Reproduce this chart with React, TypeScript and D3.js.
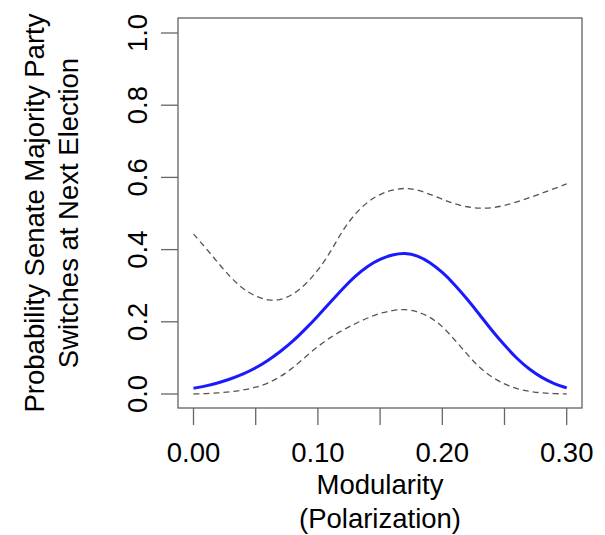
import * as d3 from "d3";
import { useEffect, useRef } from "react";

// modularity values (x)
const modularity = d3.range(0, 31).map((i) => i / 100);

// predicted probability
const fitted = [
	0.016, 0.022, 0.031, 0.042, 0.055, 0.072, 0.093, 0.118, 0.146, 0.18, 0.216,
	0.254, 0.292, 0.327, 0.355, 0.374, 0.386, 0.391, 0.384, 0.365, 0.338,
	0.303, 0.263, 0.22, 0.175, 0.135, 0.098, 0.068, 0.045, 0.028, 0.017,
];

const upper = [
	0.443, 0.404, 0.362, 0.322, 0.29, 0.27, 0.259, 0.26, 0.275, 0.303, 0.342,
	0.392, 0.455, 0.5, 0.533, 0.554, 0.566, 0.571, 0.566, 0.553, 0.54,
	0.526, 0.518, 0.514, 0.515, 0.522, 0.532, 0.544, 0.556, 0.569, 0.582,
];

const lower = [
	0.0, 0.001, 0.003, 0.006, 0.011, 0.018, 0.03, 0.048, 0.072, 0.103, 0.132,
	0.157, 0.177, 0.195, 0.211, 0.224, 0.232, 0.235, 0.229, 0.214, 0.188,
	0.15, 0.11, 0.072, 0.046, 0.027, 0.014, 0.007, 0.003, 0.001, 0.0,
];

const xTicks = [0, 0.05, 0.1, 0.15, 0.2, 0.25, 0.3];
const xLabelTicks = [0, 0.1, 0.2, 0.3];
const yTicks = [0, 0.2, 0.4, 0.6, 0.8, 1.0];

const yTitle = ["Probability Senate Majority Party", "Switches at Next Election"];
const xTitle = ["Modularity", "(Polarization)"];

export default function App() {
	const ref = useRef<SVGSVGElement>(null);

	useEffect(() => {
		const svg = d3.select(ref.current);
		svg.selectAll("*").remove();

		const font = "Liberation Sans, Arial, sans-serif";
		const fs = 27.5;
		const box = { left: 178, right: 582, top: 18, bottom: 408 };

		const x = d3.scaleLinear().domain([0, 0.3]).range([193.5, 566.7]);
		const y = d3.scaleLinear().domain([0, 1]).range([394, 33]);

		svg.append("rect").attr("width", 605).attr("height", 535).attr("fill", "#fff");

		// plot frame
		svg.append("rect")
			.attr("x", box.left).attr("y", box.top)
			.attr("width", box.right - box.left).attr("height", box.bottom - box.top)
			.attr("fill", "none").attr("stroke", "#555").attr("stroke-width", 1.2);

		const curve = (vals: number[]) =>
			d3.line<number>().x((d, i) => x(modularity[i])).y((d) => y(d)).curve(d3.curveBasis)(vals);

		// confidence bounds
		[upper, lower].forEach((vals) => {
			svg.append("path").attr("d", curve(vals)).attr("fill", "none")
				.attr("stroke", "#555").attr("stroke-width", 1.3).attr("stroke-dasharray", "6,4");
		});

		// fitted line
		svg.append("path").attr("d", curve(fitted)).attr("fill", "none")
			.attr("stroke", "#1a1aff").attr("stroke-width", 3);

		// x axis
		const xa = svg.append("g").attr("transform", `translate(0,${box.bottom})`);
		xa.selectAll("line").data(xTicks).join("line")
			.attr("x1", (d) => x(d)).attr("x2", (d) => x(d)).attr("y1", 0).attr("y2", 17)
			.attr("stroke", "#666").attr("stroke-width", 1.3);
		xa.selectAll("text").data(xLabelTicks).join("text")
			.attr("x", (d) => x(d)).attr("y", 54)
			.attr("text-anchor", "middle").attr("font-family", font).attr("font-size", fs)
			.text((d) => d3.format(".2f")(d));

		// y axis
		const ya = svg.append("g").attr("transform", `translate(${box.left},0)`);
		ya.selectAll("line").data(yTicks).join("line")
			.attr("x1", 0).attr("x2", -17).attr("y1", (d) => y(d)).attr("y2", (d) => y(d))
			.attr("stroke", "#666").attr("stroke-width", 1.3);
		ya.selectAll("text").data(yTicks).join("text")
			.attr("transform", (d) => `translate(-31,${y(d)}) rotate(-90)`)
			.attr("text-anchor", "middle").attr("font-family", font).attr("font-size", fs)
			.text((d) => d3.format(".1f")(d));

		// axis titles
		xTitle.forEach((t, i) => {
			svg.append("text").attr("x", (box.left + box.right) / 2).attr("y", 494 + i * 34)
				.attr("text-anchor", "middle").attr("font-family", font).attr("font-size", fs).text(t);
		});
		yTitle.forEach((t, i) => {
			svg.append("text")
				.attr("transform", `translate(${44 + i * 34},${(box.top + box.bottom) / 2}) rotate(-90)`)
				.attr("text-anchor", "middle").attr("font-family", font).attr("font-size", fs).text(t);
		});
	}, []);

	return (
		<svg ref={ref} width={605} height={535} style={{ position: "absolute", left: 0, top: 0 }} />
	);
}
